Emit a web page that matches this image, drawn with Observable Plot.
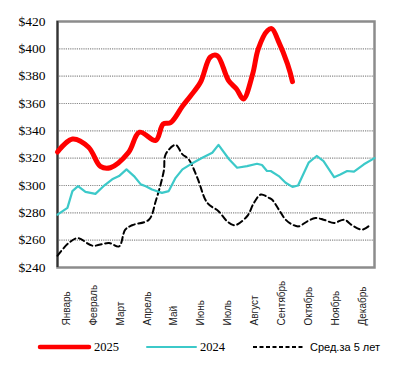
<!DOCTYPE html>
<html><head><meta charset="utf-8">
<script src="https://cdn.jsdelivr.net/npm/d3@7"></script>
<script src="https://cdn.jsdelivr.net/npm/@observablehq/plot@0.6"></script>
<style>
body{margin:0;background:#fff;width:395px;height:373px;position:relative;overflow:hidden}
#chart{position:absolute;left:0;top:0}
.lg{position:absolute;top:337px;height:20px;line-height:20px;color:#000;white-space:nowrap}
.lg svg{position:absolute;top:0}
</style></head><body>
<div id="chart"></div>
<div id="legend"></div>
<script>
const months = ["Январь","Февраль","Март","Апрель","Май","Июнь","Июль","Август","Сентябрь","Октябрь","Ноябрь","Декабрь"];
const yTicks = [240,260,280,300,320,340,360,380,400,420];
const seriesNames = ["2025","2024","Сред.за 5 лет"];

// week index (0..51) and price
const weeks2025 = [0,2.4,5,6.9,8.5,11.4,13.2,15.8,17,18.2,20.1,21.4,23,24.6,25.7,27.5,28.8,29.9,31.4,32.3,33.8,34.5,35.5,37,37.8];
const vals2025  = [324.5,334,328,314,313,324,339,333,345,346,358,365.5,375.5,394,395,377,370.6,363.3,381.6,400,413.4,414.7,406,389,376];

const weeks2024 = [0,1.6,2.4,3.3,4.5,6.1,7.4,8.8,9.9,11.1,12.3,13.4,14.2,15.2,16.8,17.9,19,20.1,21.4,23.3,24.9,25.9,27.6,28.9,30.5,32.1,32.9,33.7,34.3,35.6,36.7,37.8,38.7,40.4,41.7,42.8,44.5,45.5,46.6,47.7,49.3,51];
const vals2024  = [278.7,283.6,295.9,299.5,295.3,293.9,299.5,304.5,306.9,311.8,306.9,300.8,299.5,297.1,294.6,295.9,305.6,311.8,315.5,320.3,324,329.7,319.2,313,314.2,315.9,315,310.6,310.6,306.9,302,299,300,316.7,321.6,317.9,306.1,308.1,310.6,310.1,315.5,320];

const weeksAvg = [0,1.8,3.3,5.6,8.3,9.9,10.9,12,14.7,15.8,17.1,17.4,19,20.1,21.1,22.5,24.1,25.9,27.3,28.5,30.5,31.6,32.7,34,34.5,35.6,36.7,37.8,38.8,40.2,41.5,42.8,44.5,46.1,47.4,49,50.4];
const valsAvg  = [248.6,257.9,261.5,256,257.9,255.4,267.7,270.9,275,288.5,310.6,322.8,329.7,322.8,319.2,305.6,287.3,281.2,273.8,270.9,277.5,287.3,293.4,291,289.8,282.4,275,271.4,270.1,273.8,276.2,275,272.6,275,270.9,267.7,271.4];

const d2025 = weeks2025.map((w,i)=>({w, v: vals2025[i]}));
const d2024 = weeks2024.map((w,i)=>({w, v: vals2024[i]}));
const dAvg  = weeksAvg.map((w,i)=>({w, v: valsAvg[i]}));

const monthTicks = months.map((m,i)=> 1.45 + i*52/12);
const monthLabel = d => months[Math.round((d-1.45)*12/52)];

const chart = Plot.plot({
  width: 395, height: 330,
  marginLeft: 57, marginRight: 21, marginTop: 21, marginBottom: 63,
  style: {fontFamily: "'Liberation Serif', serif", background: "#fff", color: "#000"},
  x: {domain: [0, 51], label: null},
  y: {domain: [240, 420], label: null},
  marks: [
    Plot.gridY(yTicks.slice(1, -1), {stroke: "#8a8a8a", strokeOpacity: 1, strokeDasharray: "1.2,1", strokeWidth: 1.2}),
    Plot.frame({stroke: "#8c8c8c", strokeWidth: 2.5}),
    Plot.ruleX([0], {stroke: "#333", strokeWidth: 2}),
    Plot.axisY({ticks: yTicks, tickFormat: d => "$" + d, tickSize: 0, tickPadding: 12, label: null}),
    Plot.axisX({ticks: monthTicks, tickFormat: monthLabel, tickSize: 0, tickRotate: -90, textAnchor: "start", lineAnchor: "middle", tickPadding: 58, fill: "#222", label: null}),
    Plot.line(dAvg, {x: "w", y: "v", stroke: "#000", strokeWidth: 2, strokeDasharray: "6,3.5", curve: "catmull-rom"}),
    Plot.line(d2024, {x: "w", y: "v", stroke: "#3cc9c9", strokeWidth: 2.2, curve: "linear"}),
    Plot.line(d2025, {x: "w", y: "v", stroke: "#ff0000", strokeWidth: 5, curve: "catmull-rom", strokeLinecap: "round"})
  ]
});
document.getElementById("chart").appendChild(chart);
// fonts for tick labels
chart.querySelectorAll("text").forEach(el => {
  const s = el.textContent;
  if (s.startsWith("$")) {
    el.style.fontFamily = "'Liberation Serif', serif"; el.style.fontSize = "13.5px";
  } else if (months.includes(s)) {
    el.style.fontFamily = "'Liberation Sans', sans-serif"; el.style.fontSize = "10px";
  }
});

// legend
const legend = document.getElementById("legend");
const items = [
  {name: seriesNames[0], color: "#ff0000", w: 4.5, dash: null, x0: 40, x1: 89, tx: 94, font: "12.5px 'Liberation Serif'"},
  {name: seriesNames[1], color: "#3cc9c9", w: 2, dash: null, x0: 147, x1: 196, tx: 200, font: "12.5px 'Liberation Serif'"},
  {name: seriesNames[2], color: "#000", w: 2, dash: "4,2.5", x0: 253, x1: 303, tx: 310, font: "11px 'Liberation Sans'"}
];
items.forEach(it => {
  const sw = document.createElementNS("http://www.w3.org/2000/svg","svg");
  sw.setAttribute("width", it.x1 - it.x0 + 6);
  sw.setAttribute("height", 20);
  sw.style.left = (it.x0 - 3) + "px";
  const ln = document.createElementNS("http://www.w3.org/2000/svg","line");
  ln.setAttribute("x1", 3); ln.setAttribute("x2", it.x1 - it.x0 + 3);
  ln.setAttribute("y1", 10); ln.setAttribute("y2", 10);
  ln.setAttribute("stroke", it.color); ln.setAttribute("stroke-width", it.w);
  if (it.dash) ln.setAttribute("stroke-dasharray", it.dash); else ln.setAttribute("stroke-linecap", "round");
  sw.appendChild(ln);
  const wrap = document.createElement("div");
  wrap.className = "lg"; wrap.style.left = "0px";
  wrap.appendChild(sw);
  legend.appendChild(wrap);
  const t = document.createElement("div");
  t.className = "lg"; t.style.left = it.tx + "px"; t.style.font = it.font; t.style.lineHeight = "20px";
  t.textContent = it.name;
  legend.appendChild(t);
});
</script>
</body></html>
